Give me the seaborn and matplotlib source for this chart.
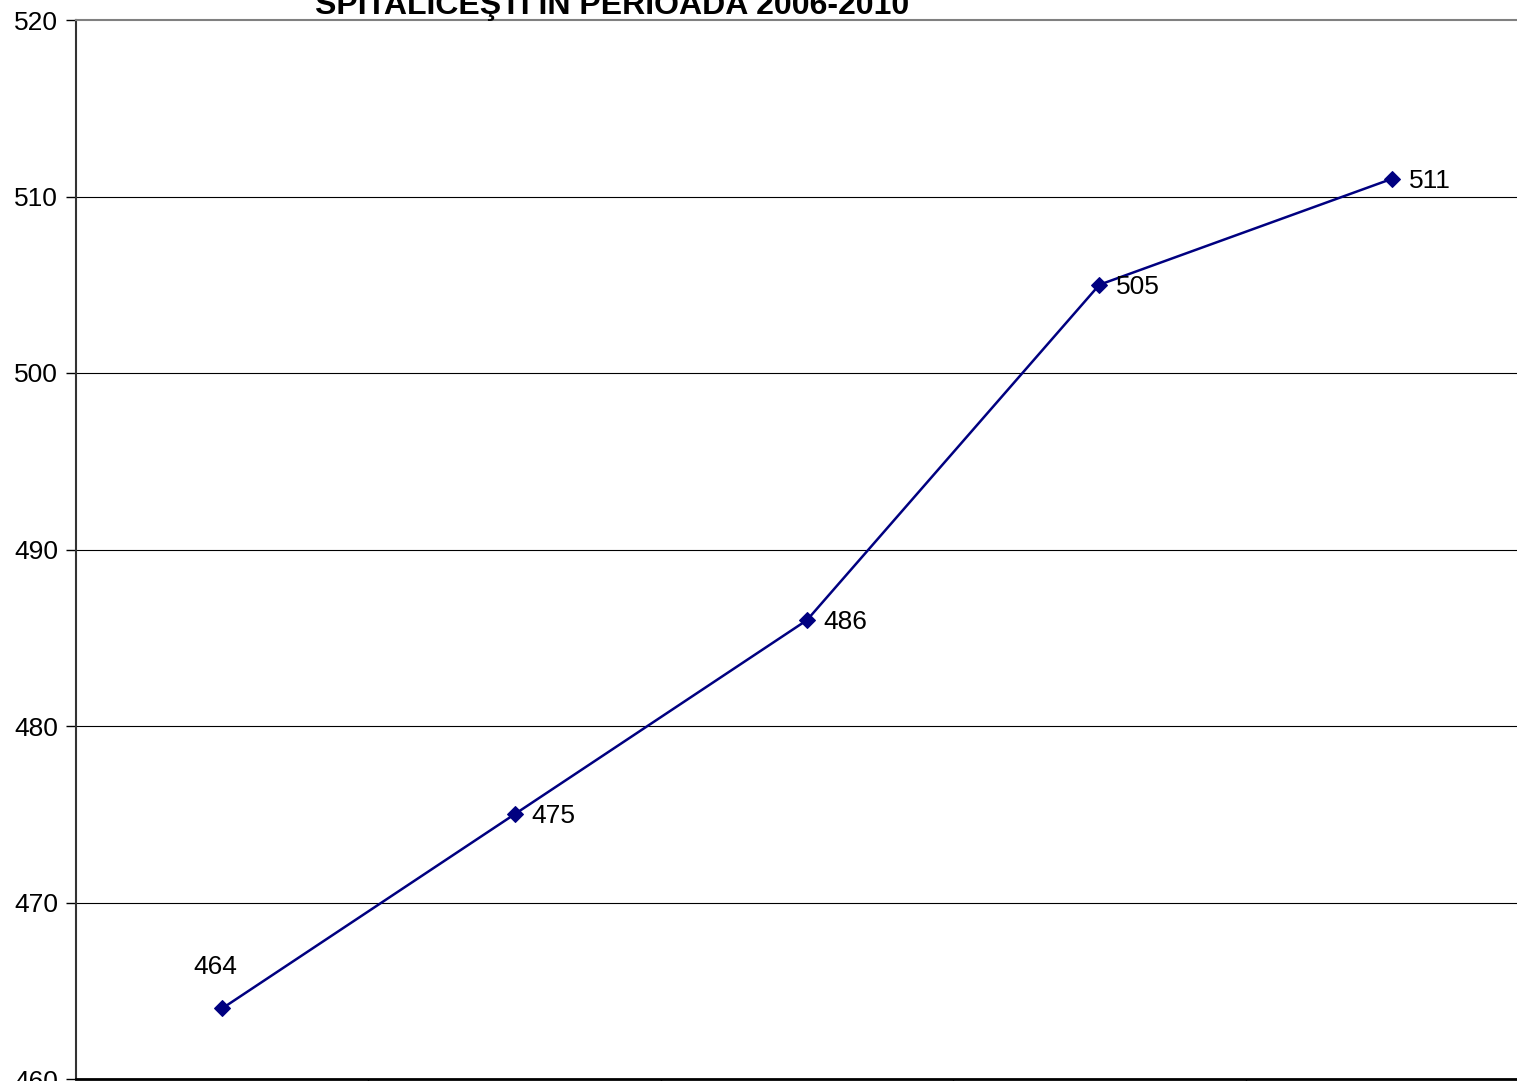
import pandas as pd
import numpy as np
import matplotlib.pyplot as plt
import seaborn as sns

years = ['2006', '2007', '2008', '2009', '2010']
values = [464, 475, 486, 505, 511]
y_ticks = [460, 470, 480, 490, 500, 510, 520]
title = 'SPITALICEŞTI ÎN PERIOADA 2006-2010'

df = pd.DataFrame({'pos': np.arange(len(years)), 'val': values})

sns.set_style('white')
plt.rcParams['font.family'] = ['Liberation Sans', 'DejaVu Sans']
plt.rcParams['text.color'] = 'black'
plt.rcParams['ytick.color'] = 'black'
plt.rcParams['xtick.color'] = 'black'

fig = plt.figure(figsize=(15.17, 10.81), dpi=100)
# the plot area runs past the right edge of the picture
ax = fig.add_axes([76 / 1517, 2 / 1081, 1462 / 1517, 1059 / 1081])

sns.lineplot(data=df, x='pos', y='val', ax=ax, color='#000080', linewidth=1.8,
             marker='D', markersize=8, markeredgecolor='#000080')

ax.set_xlim(-0.5, 4.5)
ax.set_ylim(460, 520)
ax.set_yticks(y_ticks)
ax.set_yticklabels([str(t) for t in y_ticks], fontsize=19)
ax.set_xticks(np.arange(0.5, 4.5, 1))
ax.set_xticklabels([])
ax.set_xlabel('')
ax.set_ylabel('')
ax.tick_params(axis='y', direction='out', length=7, width=1, color='black', pad=6, left=True)
ax.tick_params(axis='x', direction='out', length=7, width=1, color='black', bottom=True)

for t in y_ticks[1:-1]:
    ax.axhline(t, color='black', linewidth=0.8, zorder=0)

ax.spines['left'].set_color('#333333')
ax.spines['left'].set_linewidth(1.5)
ax.spines['bottom'].set_color('black')
ax.spines['bottom'].set_linewidth(2)
ax.spines['top'].set_color('#808080')
ax.spines['top'].set_linewidth(1.5)
ax.spines['right'].set_visible(False)

for i, v in enumerate(values):
    if i == 0:
        ax.annotate(str(v), (i, v), xytext=(-5, 30), textcoords='offset points',
                    ha='center', va='center', fontsize=19)
    else:
        ax.annotate(str(v), (i, v), xytext=(12, -1.5), textcoords='offset points',
                    ha='left', va='center', fontsize=19)

fig.text(612 / 1517, 1 - 14 / 1081, title, ha='center', va='baseline',
         fontsize=23, fontweight='bold')

fig.savefig('out.png', dpi=100)
